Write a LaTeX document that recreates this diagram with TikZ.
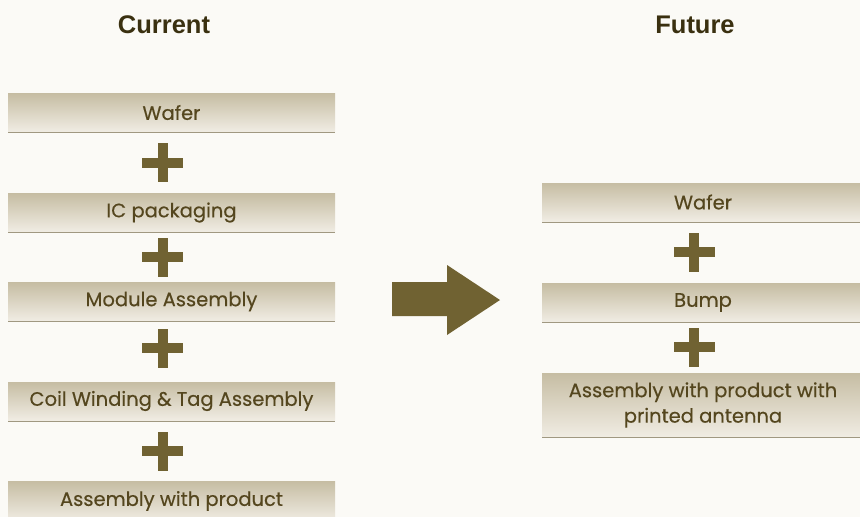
\documentclass[tikz,border=0pt]{standalone}
\usepackage{fontspec}
\usetikzlibrary{shadows}
\newfontfamily\labelfont[FakeBold=0.4]{Poppins}
\newfontfamily\titlefont{Liberation Sans}
\definecolor{bgcol}{RGB}{251,250,246}
\definecolor{boxtop}{RGB}{198,189,163}
\definecolor{boxbot}{RGB}{240,236,227}
\definecolor{boxedge}{RGB}{130,120,90}
\definecolor{labeltext}{RGB}{84,70,30}
\definecolor{titletext}{RGB}{58,48,16}
\definecolor{olive}{RGB}{112,98,50}
\begin{document}
\begin{tikzpicture}[x=1pt,y=-1pt,
  stage/.style={minimum height=38pt, inner sep=0pt, top color=boxtop, bottom color=boxbot,
    text=labeltext, font=\labelfont\fontsize{19.5}{25.5}\selectfont, align=center,
    drop shadow={shadow xshift=0pt, shadow yshift=-1.8pt, fill=boxedge, opacity=0.75}},
  leftstage/.style={stage, minimum width=327pt},
  rightstage/.style={stage, minimum width=322pt},
  heading/.style={text=titletext, font=\titlefont\bfseries\fontsize{25.5}{28}\selectfont, inner sep=0pt},
  plusbar/.style={fill=olive}]
\useasboundingbox (0,0) rectangle (860,517);
\fill[bgcol] (0,0) rectangle (860,517);

% titles
\node[heading] (tcur) at (164,25) {Current};
\node[heading] (tfut) at (695,25) {Future};

% left column
\node[leftstage] (l1) at (171.5,112.5) {Wafer};
\node[leftstage] (l2) at (171.5,212.5) {IC packaging};
\node[leftstage] (l3) at (171.5,301.5) {Module Assembly};
\node[leftstage] (l4) at (171.5,401) {Coil Winding \& Tag Assembly};
\node[leftstage, minimum height=40pt] (l5) at (171.5,501) {Assembly with product};

% right column
\node[rightstage] (r1) at (703,202) {Wafer};
\node[rightstage] (r2) at (703,302.5) {Bump};
\node[rightstage, minimum height=63pt] (r3) at (703,405) {Assembly with product with\\printed antenna};

% plus signs
\foreach \cx/\cy in {162.5/162.5, 162.5/257, 162.5/348, 162.5/451, 694/252, 694/347}{
  \fill[plusbar] (\cx-20.5,\cy-5) rectangle (\cx+20.5,\cy+5);
  \fill[plusbar] (\cx-5,\cy-19.5) rectangle (\cx+5,\cy+19.5);
}

% big arrow
\fill[olive] (392,282) -- (447,282) -- (447,265) -- (500,300) -- (447,335) -- (447,316) -- (392,316) -- cycle;
\end{tikzpicture}
\end{document}
